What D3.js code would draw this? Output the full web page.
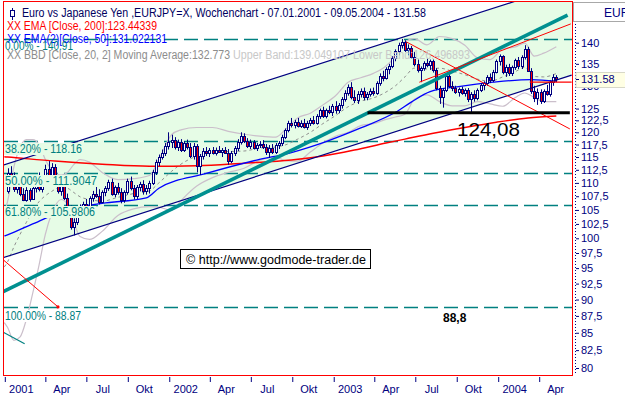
<!DOCTYPE html>
<html><head><meta charset="utf-8">
<script src="https://cdn.jsdelivr.net/npm/d3@7"></script>
<style>body{margin:0;background:#fff}svg{display:block;font-family:"Liberation Sans",Arial,sans-serif}</style>
</head><body><svg id="c" width="625" height="396"></svg>
<script>
// ---------------- DATA ----------------
const firstWeek = "2001-01-07";
// weekly candles [open, high, low, close]
const ohlc = [
[108.5,112.8,108.0,111.8],[111.8,113.2,110.5,111.0],[111.0,112.0,108.3,108.8],[108.8,110.8,108.0,110.2],
[110.2,111.5,107.5,108.0],[108.0,109.0,106.6,106.9],[106.9,109.2,106.5,108.6],[108.6,109.0,106.5,107.0],
[107.0,109.5,106.8,109.0],[109.0,111.0,108.2,110.5],[110.5,112.0,108.4,108.8],[108.8,111.2,108.2,110.8],
[110.8,113.5,110.0,112.6],[112.6,114.2,110.8,111.5],[111.5,113.8,110.5,113.0],[113.0,113.6,109.5,110.0],
[110.0,111.2,108.0,108.5],[108.5,110.5,107.6,109.8],[109.8,110.4,106.8,107.2],[107.2,108.0,104.5,105.0],
[105.0,105.8,101.5,102.0],[102.0,103.5,100.5,102.8],[102.8,105.2,102.3,104.9],[104.9,106.0,104.0,105.2],
[105.2,106.5,104.5,106.0],[106.0,107.0,105.2,105.6],[105.6,107.5,105.0,107.2],[107.2,108.5,106.5,108.0],
[108.0,109.5,107.2,107.6],[107.6,108.8,106.0,106.5],[106.5,108.6,106.2,108.3],[108.3,109.4,107.5,109.0],
[109.0,110.6,108.5,110.2],[110.2,110.8,107.6,108.0],[108.0,109.5,107.3,109.2],[109.2,110.0,107.8,108.3],
[108.3,109.0,106.2,106.8],[106.8,108.6,106.3,108.2],[108.2,110.8,107.8,110.3],[110.3,111.2,108.6,109.0],
[109.0,109.6,106.9,107.5],[107.5,109.6,107.0,109.2],[109.2,110.2,108.4,109.8],[109.8,110.5,107.8,108.4],
[108.4,109.6,107.8,109.0],[109.0,110.4,108.0,110.0],[110.0,112.5,109.6,112.0],[112.0,114.5,111.5,114.0],
[114.0,115.5,113.2,115.0],[115.0,116.5,114.5,115.8],[115.8,117.8,115.2,117.3],[117.3,120.0,116.5,118.0],
// 2002
[118.0,119.5,116.8,118.5],[118.5,119.0,116.5,117.0],[117.0,118.5,116.2,118.0],[118.0,118.6,116.0,116.5],
[116.5,118.2,116.0,117.8],[117.8,118.5,116.5,117.0],[117.0,117.8,114.8,115.2],[115.2,117.8,114.5,117.3],
[117.3,117.6,112.0,113.2],[113.2,115.6,111.5,115.2],[115.2,116.8,114.5,116.3],[116.3,117.0,115.2,115.8],
[115.8,116.8,115.0,116.4],[116.4,117.0,115.5,115.9],[115.9,116.9,115.3,116.5],[116.5,117.2,115.8,116.1],
[116.1,116.8,115.0,116.4],[116.4,117.0,115.6,115.9],[115.9,116.6,113.5,114.2],[114.2,116.2,113.8,115.8],
[115.8,117.2,115.2,116.8],[116.8,118.6,116.2,118.0],[118.0,120.0,117.5,119.2],[119.2,119.8,117.8,118.2],
[118.2,118.8,116.8,117.3],[117.3,118.5,116.6,118.0],[118.0,118.4,116.5,116.9],[116.9,117.8,116.2,117.4],
[117.4,118.2,116.8,117.6],[117.6,118.4,116.6,117.0],[117.0,117.6,115.4,116.0],[116.0,117.4,114.8,116.9],
[116.9,117.6,115.6,116.0],[116.0,117.8,115.6,117.4],[117.4,118.2,116.6,117.8],[117.8,119.5,117.2,119.0],
[119.0,120.8,118.6,120.5],[120.5,122.4,120.0,122.0],[122.0,123.0,121.0,121.5],[121.5,122.6,120.8,122.2],
[122.2,123.0,121.0,121.4],[121.4,122.5,120.9,122.0],[122.0,122.8,120.8,121.2],[121.2,122.4,120.5,121.9],
[121.9,123.0,121.3,122.6],[122.6,123.4,121.6,122.0],[122.0,123.8,121.6,123.4],[123.4,125.0,122.8,124.6],
[124.6,125.4,123.0,123.5],[123.5,125.0,122.9,124.6],[124.6,125.6,123.8,124.2],[124.2,126.0,123.4,125.6],
// 2003
[125.6,126.6,123.9,124.6],[124.6,126.2,124.0,125.8],[125.8,127.5,125.0,127.0],[127.0,129.0,126.5,128.5],
[128.5,130.3,127.8,129.8],[129.8,130.8,127.0,127.5],[127.5,129.0,126.2,126.8],[126.8,128.8,126.0,128.2],
[128.2,129.4,127.4,128.8],[128.8,129.6,126.8,127.5],[127.5,128.6,126.8,128.2],[128.2,129.4,127.6,128.9],
[128.9,129.6,127.8,128.4],[128.4,131.0,128.0,130.6],[130.6,132.8,130.0,132.2],[132.2,133.4,131.0,131.8],
[131.8,134.2,131.4,133.8],[133.8,135.0,132.6,134.6],[134.6,136.8,134.0,136.4],[136.4,138.4,135.6,138.0],
[138.0,140.0,137.0,139.4],[139.4,140.91,138.6,140.2],[140.2,140.6,137.8,138.2],[138.2,139.6,137.0,138.8],
[138.8,139.2,136.2,136.6],[136.6,137.8,134.4,135.0],[135.0,136.0,133.0,133.6],[133.6,134.4,130.8,134.0],
[134.0,135.6,133.4,135.2],[135.2,136.2,134.2,134.8],[134.8,136.0,133.6,135.6],[135.6,136.0,133.0,133.6],
[133.6,134.0,129.0,129.6],[129.6,130.0,126.0,127.6],[127.6,129.5,125.2,129.0],[129.0,132.8,128.6,132.2],
[132.2,133.0,129.5,130.0],[130.0,131.0,128.8,129.4],[129.4,130.0,128.2,128.7],[128.7,129.6,127.6,129.2],
[129.2,129.8,128.0,128.4],[128.4,129.4,127.6,129.0],[129.0,129.5,126.4,127.0],[127.0,128.6,124.08,128.2],
[128.2,129.0,126.5,127.2],[127.2,129.4,126.8,129.0],[129.0,130.6,128.6,130.2],[130.2,131.0,129.0,130.6],
[130.6,132.4,130.0,132.0],[132.0,132.8,130.6,131.2],[131.2,133.6,130.8,133.2],[133.2,136.0,132.8,135.6],
// 2004
[135.6,137.2,134.6,136.8],[136.8,137.0,132.6,133.2],[133.2,134.8,132.0,134.2],[134.2,135.0,132.2,132.8],
[132.8,134.6,132.2,134.2],[134.2,136.2,133.6,135.8],[135.8,136.6,133.8,134.4],[134.4,137.0,133.8,136.6],
[136.6,139.4,136.0,138.6],[138.6,139.0,133.2,133.4],[133.4,134.0,128.2,128.8],[128.8,130.0,126.4,127.2],
[127.2,129.4,125.8,128.6],[128.6,129.2,126.0,126.6],[126.6,129.2,126.2,128.8],[128.8,130.2,127.8,128.2],
[128.2,131.2,127.6,130.8],[130.8,132.6,130.0,131.9],[131.9,132.4,130.8,131.58]
];
// indicators read at selected weeks: [week index, value] (index -1 = left edge of the plot)
const ema200 = [[-1,115.05],[0,115.0],[15,114.2],[30,113.6],[45,113.2],[60,113.3],[75,113.8],[90,114.4],[100,115.2],
  [110,116.4],[120,117.8],[126,118.6],[135,119.8],[145,121.0],[155,122.1],[165,123.0],[174,123.44]];
const ema50 = [[-1,100.4],[0,100.6],[8,102.5],[19,105.1],[30,106.2],[44,107.2],[48,109.0],[63,111.8],[79,114.4],
  [90,115.9],[101,118.1],[112,120.9],[123,124.2],[128,126.4],[134,128.7],[143,129.8],[154,130.8],[166,131.4],[174,131.02]];
const bbWeeks = [-1,0,2,4,6,8,10,12,14,17,19,21,23,26,30,35,40,45,48,52,55,60,65,70,75,80,85,88,92,96,100,
  104,108,112,116,120,123,126,129,133,137,141,145,149,153,157,161,164,167,170,174];
const bbUpper = [104.5,106.5,113.0,117.0,118.5,118.5,117.5,114.5,112.5,111.5,112.0,113.5,114.5,114.0,112.0,110.6,110.8,
  111.4,114.5,119.5,120.5,121.0,121.0,120.2,119.6,119.2,119.0,120.5,123.0,124.0,125.8,127.8,130.8,131.8,132.8,
  134.5,136.8,140.2,141.0,139.5,141.5,141.0,139.4,136.4,136.0,138.5,139.0,139.9,136.8,137.5,139.05];
const bbMid = [95.2,96.0,98.5,100.7,102.8,104.8,106.5,107.6,108.4,109.2,109.0,108.2,107.4,106.9,106.6,107.3,108.0,
  108.5,110.0,112.2,113.6,115.2,116.0,116.1,116.2,116.8,117.0,117.4,118.6,120.0,121.8,123.5,125.4,126.6,127.3,
  128.6,130.0,132.0,134.0,133.8,134.0,133.3,132.5,131.5,131.0,132.0,133.2,134.2,132.1,132.0,132.77];
const bbLower = [86.5,85.8,83.9,84.4,87.0,91.0,95.5,100.7,104.3,106.9,106.0,102.9,100.3,99.8,101.2,104.0,105.2,
  105.6,105.5,104.9,106.7,109.4,111.0,112.0,112.8,114.4,115.0,114.3,114.2,116.0,117.8,119.2,120.0,121.4,121.8,
  122.7,123.2,123.8,127.0,128.0,126.5,125.6,125.6,126.5,126.0,125.5,127.4,128.4,127.4,126.5,126.50];
// drawn trend lines [date, price]
const channelUpper = [["2000-12-28",113.4],["2004-06-12",155.1]];
const channelLower = [["2000-12-28",96.7],["2004-06-12",132.4]];
const mainTrend = [["2000-12-28",91.2],["2004-06-03",146.8]];
const redFan = [["2000-12-28",96.4],["2001-04-29",88.87]];
const redDown = [["2003-06-11",140.2],["2004-06-08",120.7]];
const redUp = [["2003-07-10",130.8],["2004-06-10",144.6]];
const redFlat = [["2004-03-11",130.8],["2004-06-12",130.8]];
const tealShort = [["2000-12-28",85.1],["2001-02-14",83.4]];
const support = [["2003-03-17",124.08],["2004-06-08",124.08]];
// Fibonacci levels
const fibValues = [140.91,118.16,111.9047,105.9806,88.87];
const fibLabels = ["0.00% - 140.91","38.20% - 118.16","50.00% - 111.9047","61.80% - 105.9806","100.00% - 88.87"];
// axes
const yTicks = [140,135,130,125,122.5,120,117.5,115,112.5,110,107.5,105,102.5,100,97.5,95,92.5,90,87.5,85,82.5,80];
const xTickDates = ["2001-01-01","2001-04-01","2001-07-01","2001-10-01","2002-01-01","2002-04-01","2002-07-01",
  "2002-10-01","2003-01-01","2003-04-01","2003-07-01","2003-10-01","2004-01-01","2004-04-01"];
const monthNames = ["Jan","Feb","Mär","Apr","Mai","Jun","Jul","Aug","Sep","Okt","Nov","Dez"];
const lastPrice = 131.58;

// ---------------- DRAW ----------------
const parse = d3.timeParse("%Y-%m-%d");
const navy = "#000080", teal = "#008080";
const svg = d3.select("#c");
const x = d3.scaleTime().domain([parse("2001-01-01"), parse("2004-04-01")]).range([4.8, 539.2]);
const y = d3.scaleLog().domain([80,140]).range([368, 42.7]);
const weekDate = i => d3.timeDay.offset(parse(firstWeek), 7*i);
const weekDates = ohlc.map((d,i) => weekDate(i));
const P = d => [x(parse(d[0])), y(d[1])];
const line = d3.line();

svg.append("rect").attr("width",625).attr("height",396).attr("fill","#fff");
svg.append("defs").append("clipPath").attr("id","pc").append("rect")
  .attr("x",4).attr("y",2).attr("width",568).attr("height",373);
const g = svg.append("g").attr("clip-path","url(#pc)");

// channel fill
g.append("path").attr("d", line([P(channelUpper[0]),P(channelUpper[1]),P(channelLower[1]),P(channelLower[0])]) + "Z")
  .attr("fill","#e6fce6");

// fib dashed lines
g.selectAll(".fib").data(fibValues).join("line")
  .attr("x1",4).attr("x2",572).attr("y1",d=>Math.round(y(d))+0.5).attr("y2",d=>Math.round(y(d))+0.5)
  .attr("stroke",teal).attr("stroke-width",1.6).attr("stroke-dasharray","14,6");

// legend texts (behind candles)
const leg = svg.append("g").attr("font-size",12);
leg.append("line").attr("x1",12.5).attr("x2",12.5).attr("y1",8).attr("y2",20).attr("stroke",navy);
leg.append("rect").attr("x",10.5).attr("y",10.5).attr("width",4).attr("height",6).attr("fill","#fff").attr("stroke",navy);
leg.append("text").attr("x",22).attr("y",17).attr("fill","#000060").attr("textLength",404).attr("lengthAdjust","spacingAndGlyphs")
  .text("Euro vs Japanese Yen ,EURJPY=X, Wochenchart - 07.01.2001 - 09.05.2004 - 131.58");
leg.append("text").attr("x",7).attr("y",30).attr("fill","#ff0000").attr("textLength",150).attr("lengthAdjust","spacingAndGlyphs")
  .text("XX EMA [Close, 200]:123.44339");
leg.append("text").attr("x",7).attr("y",43).attr("fill","#0000ff").attr("textLength",160).attr("lengthAdjust","spacingAndGlyphs")
  .text("XX EMA(2)[Close, 50]:131.022131");
leg.append("text").attr("x",7).attr("y",59).attr("fill","#8c8c8c").attr("textLength",223).attr("lengthAdjust","spacingAndGlyphs")
  .text("XX BBD [Close, 20, 2] Moving Average:132.773");
leg.append("text").attr("x",233).attr("y",59).attr("fill","#c8c8c8").attr("textLength",237).attr("lengthAdjust","spacingAndGlyphs")
  .text("Upper Band:139.049107 Lower Band:126.496893");

// Bollinger bands
const bx = i => x(weekDate(i));
const curve = d3.line().curve(d3.curveMonotoneX);
g.append("path").attr("d", curve(bbWeeks.map((w,k)=>[bx(w), y(bbUpper[k])]))).attr("fill","none").attr("stroke","#cbbfcb").attr("stroke-width",1.2);
g.append("path").attr("d", curve(bbWeeks.map((w,k)=>[bx(w), y(bbLower[k])]))).attr("fill","none").attr("stroke","#cbbfcb").attr("stroke-width",1.2);
g.append("path").attr("d", curve(bbWeeks.map((w,k)=>[bx(w), y(bbMid[k])]))).attr("fill","none").attr("stroke","#8f8f8f").attr("stroke-dasharray","3,3");

// EMAs
g.append("path").attr("d", curve(ema200.map(d=>[bx(d[0]), y(d[1])]))).attr("fill","none").attr("stroke","#ff0000").attr("stroke-width",1.5);
g.append("path").attr("d", curve(ema50.map(d=>[bx(d[0]), y(d[1])]))).attr("fill","none").attr("stroke","#0000ff").attr("stroke-width",1.3);

// candles
const cg = g.append("g");
const cs = cg.selectAll("g").data(ohlc).join("g");
cs.append("line")
  .attr("x1",(d,i)=>Math.round(x(weekDates[i]))+0.5).attr("x2",(d,i)=>Math.round(x(weekDates[i]))+0.5)
  .attr("y1",d=>y(d[1])).attr("y2",d=>y(d[2])).attr("stroke",navy);
cs.append("rect")
  .attr("x",(d,i)=>Math.round(x(weekDates[i]))-0.5)
  .attr("y",d=>Math.round(y(Math.max(d[0],d[3])))+0.5)
  .attr("width",2)
  .attr("height",d=>Math.max(1, Math.round(y(Math.min(d[0],d[3])))-Math.round(y(Math.max(d[0],d[3])))))
  .attr("fill",d=>d[3]<d[0]?"#ff0000":"#ffffff").attr("stroke",navy);

// trend lines
const tl = (pts,color,w) => g.append("path").attr("d",line(pts.map(P))).attr("fill","none").attr("stroke",color).attr("stroke-width",w);
tl(channelUpper,navy,1.2);
tl(channelLower,navy,1.2);
tl(tealShort,teal,1.2);
tl(mainTrend,"#009090",3.6);
tl(redFan,"#ff0000",1);
tl(redDown,"#ff0000",1);
tl(redUp,"#ff0000",1);
tl(redFlat,"#ff0000",1.2);
tl(support,"#000000",3);
g.append("circle").attr("cx",P(redFan[1])[0]).attr("cy",P(redFan[1])[1]).attr("r",1.6).attr("fill","#ff0000");

// fib labels
const fl = svg.append("g").attr("font-size",12).attr("fill",teal);
const fibW = [68,77,92,90,76];
const fibBase = [50,153,185,216,320];
fibValues.forEach((v,k)=>{
  if (k>0) fl.append("rect").attr("x",4).attr("y",fibBase[k]-10).attr("width",fibW[k]+2).attr("height",12)
      .attr("fill", k===4 ? "#ffffff" : "#e6fce6");
  fl.append("text").attr("x",5).attr("y",fibBase[k]).attr("textLength",fibW[k]).attr("lengthAdjust","spacingAndGlyphs").text(fibLabels[k]);
});

// annotations
svg.append("text").attr("x",457).attr("y",136).attr("font-size",19).attr("fill","#000").attr("textLength",63).attr("lengthAdjust","spacingAndGlyphs").text("124,08");
svg.append("text").attr("x",443).attr("y",322).attr("font-size",12).attr("font-weight","bold").attr("fill","#000").text("88,8");
svg.append("rect").attr("x",180.5).attr("y",249.5).attr("width",190).attr("height",19).attr("fill","#fff").attr("stroke","#000");
svg.append("text").attr("x",186).attr("y",264).attr("font-size",12).attr("fill","#000").attr("textLength",180).attr("lengthAdjust","spacingAndGlyphs").text("© http://www.godmode-trader.de");

// frame
svg.append("rect").attr("x",3.5).attr("y",1.5).attr("width",569).attr("height",374).attr("fill","none").attr("stroke","#ff0000");

// y axis (right)
const ya = svg.append("g").attr("transform","translate(576,0)")
  .call(d3.axisRight(y).tickValues(yTicks).tickSize(3).tickFormat(d=>String(d).replace(".",",")));
ya.select(".domain").remove();
ya.selectAll("line").attr("stroke",navy);
ya.selectAll("text").attr("fill",navy).attr("font-size",11).attr("font-family","Liberation Sans, Arial, sans-serif").attr("x",5);
svg.append("line").attr("x1",575.5).attr("x2",575.5).attr("y1",24).attr("y2",374).attr("stroke",navy).attr("stroke-dasharray","1,2");
svg.append("rect").attr("x",573.5).attr("y",2.5).attr("width",55).attr("height",19).attr("fill","#fff").attr("stroke","#a8a8a8");
svg.append("text").attr("x",604).attr("y",17).attr("font-size",12).attr("fill",navy).text("EUR");
// current price marker box (covers the 130 tick label as in the original)
svg.append("rect").attr("x",576).attr("y",72.5).attr("width",50).attr("height",15).attr("fill","#ffffe4").attr("stroke","#d8d8c8");
svg.append("line").attr("x1",576).attr("x2",579).attr("y1",Math.round(y(lastPrice))+0.5).attr("y2",Math.round(y(lastPrice))+0.5).attr("stroke",navy);
svg.append("text").attr("x",581).attr("y",y(lastPrice)+4).attr("font-size",11).attr("fill",navy).text(String(lastPrice));

// x axis
const xt = xTickDates.map(parse);
const xa = svg.append("g").attr("transform","translate(0,377)")
  .call(d3.axisBottom(x).tickValues(xt).tickSize(5)
    .tickFormat(d=>d.getMonth()===0 ? d3.timeFormat("%Y")(d) : monthNames[d.getMonth()]));
xa.select(".domain").remove();
xa.selectAll("line").attr("stroke",navy);
xa.selectAll("text").attr("fill",navy).attr("font-size",11).attr("font-family","Liberation Sans, Arial, sans-serif")
  .attr("x",16).attr("y",8).attr("dy","0.71em");
</script>
</body></html>
